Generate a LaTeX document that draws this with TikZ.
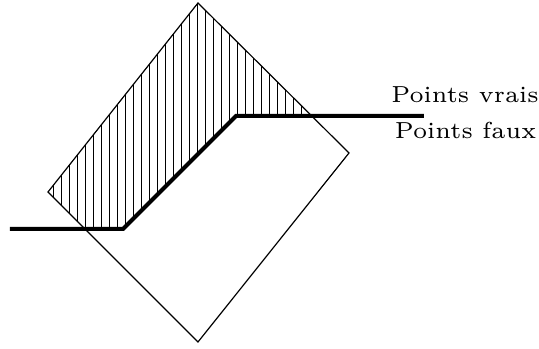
\documentclass[tikz,border=0pt]{standalone}
\usepackage{tikz}
\usetikzlibrary{positioning}

\begin{document}
\begin{tikzpicture}[x=2.5pt, y=2.5pt, font=\fontsize{5.8}{7}\selectfont, every node/.style={inner sep=0pt}]
    \useasboundingbox ({0},{0}) rectangle ({53.9},{34.9});
    \coordinate (top) at ({19.8},{34.6});
    \coordinate (right) at ({34.9},{19.6});
    \coordinate (bottom) at ({19.8},{0.7});
    \coordinate (left) at ({4.8},{15.7});
    \coordinate (start) at ({1.0},{12.0});
    \coordinate (kneeA) at ({12.3},{12.0});
    \coordinate (kneeB) at ({23.6},{23.3});
    \coordinate (stop) at ({42.4},{23.3});

    \begin{scope}
        \clip (top) -- (right) -- (bottom) -- (left) -- cycle;
        \clip (start) -- (kneeA) -- (kneeB) -- (stop) -- ({42.4},{40}) -- ({0},{40}) -- cycle;
        \foreach \k in {0,...,32}
            \draw[line width=0.25pt] ({5.33+0.8*\k},{0}) -- ({5.33+0.8*\k},{40});
    \end{scope}

    \draw[line width=0.3pt] (top) -- (right) -- (bottom) -- (left) -- cycle;
    \draw[line width=1pt] (start) -- (kneeA) -- (kneeB) -- (stop);

    \node[anchor=base] (vrais) at ({46.5},{24.6}) {Points vrais};
    \node[anchor=base] (faux) at ({46.55},{21.0}) {Points faux};
\end{tikzpicture}
\end{document}
